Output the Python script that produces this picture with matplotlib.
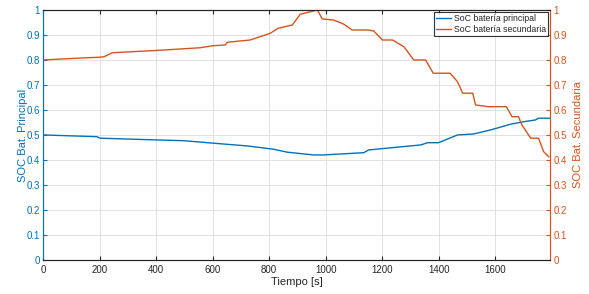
import matplotlib
matplotlib.use("Agg")
import matplotlib.pyplot as plt

plt.rcParams['font.family'] = ['Liberation Sans', 'DejaVu Sans']

# time [s] and SoC of the main battery
t_main = [0, 190, 201, 403, 497, 603, 722, 815, 864, 957, 993, 1135, 1152, 1337,
          1361, 1400, 1467, 1524, 1584, 1655, 1702, 1743, 1754, 1795]
soc_main = [0.500, 0.493, 0.487, 0.480, 0.477, 0.467, 0.456, 0.443, 0.431, 0.420,
            0.420, 0.429, 0.440, 0.460, 0.469, 0.469, 0.500, 0.504, 0.520, 0.543,
            0.553, 0.560, 0.567, 0.567]

# time [s] and SoC of the secondary battery
t_sec = [0, 100, 200, 215, 245, 400, 556, 600, 644, 652, 733, 804, 832, 882, 910,
         957, 971, 988, 1028, 1063, 1094, 1151, 1170, 1201, 1237, 1277, 1312, 1354,
         1381, 1441, 1467, 1485, 1521, 1531, 1576, 1640, 1660, 1683, 1695, 1726,
         1754, 1772, 1790]
soc_sec = [0.800, 0.806, 0.811, 0.813, 0.829, 0.838, 0.849, 0.857, 0.860, 0.871,
           0.880, 0.907, 0.927, 0.940, 0.983, 0.996, 1.000, 0.964, 0.960, 0.944,
           0.920, 0.920, 0.916, 0.880, 0.880, 0.853, 0.800, 0.800, 0.747, 0.747,
           0.713, 0.667, 0.667, 0.620, 0.613, 0.613, 0.573, 0.573, 0.540, 0.487,
           0.487, 0.433, 0.413]

blue = '#0072BD'
orange = '#D95319'
dark = '#262626'
fs = 7

fig = plt.figure(figsize=(5.89, 2.94), dpi=100)
ax = fig.add_axes([0.0735, 0.116, 0.8605, 0.85])
ax2 = ax.twinx()

l1, = ax.plot(t_main, soc_main, color=blue, lw=1)
l2, = ax2.plot(t_sec, soc_sec, color=orange, lw=1)

ax.set_xlim(0, 1795)
ax.set_ylim(0, 1)
ax2.set_ylim(0, 1)
yt = [i / 10 for i in range(11)]
ylabels = ['0' if v == 0 else ('1' if v == 1 else f'{v:.1f}') for v in yt]
ax.set_yticks(yt)
ax.set_yticklabels(ylabels)
ax2.set_yticks(yt)
ax2.set_yticklabels(ylabels)
ax.set_xticks(range(0, 1800, 200))

ax.grid(True, color='#dcdcdc', lw=0.6)
ax.set_axisbelow(True)

ax.tick_params(axis='x', direction='in', top=True, colors=dark, labelsize=fs, length=3, pad=4)
ax.tick_params(axis='y', direction='in', colors=blue, labelsize=fs, length=3, pad=2.5)
ax2.tick_params(axis='y', direction='in', colors=orange, labelsize=fs, length=3, pad=2.5)

for a in (ax, ax2):
    a.spines['top'].set_color(dark)
    a.spines['bottom'].set_color(dark)
    a.spines['left'].set_color(blue)
    a.spines['right'].set_color(orange)
    for s in a.spines.values():
        s.set_linewidth(0.8)

ax.set_xlabel('Tiempo [s]', fontsize=8, color=dark, labelpad=1)
ax.set_ylabel('SOC Bat. Principal', fontsize=8, color=blue, labelpad=-1)
ax2.set_ylabel('SOC Bat. Secundaria', fontsize=8, color=orange, labelpad=4)

leg = ax2.legend([l1, l2], ['SoC batería principal', 'SoC batería secundaria'],
                 loc='upper right', fontsize=6.3, frameon=True, fancybox=False,
                 borderpad=0.25, handlelength=1.7, handletextpad=0.3,
                 labelspacing=0.15, borderaxespad=0.25)
leg.get_frame().set_edgecolor('black')
leg.get_frame().set_linewidth(0.8)
for txt in leg.get_texts():
    txt.set_color(dark)

fig.savefig('out.png', dpi=100)
